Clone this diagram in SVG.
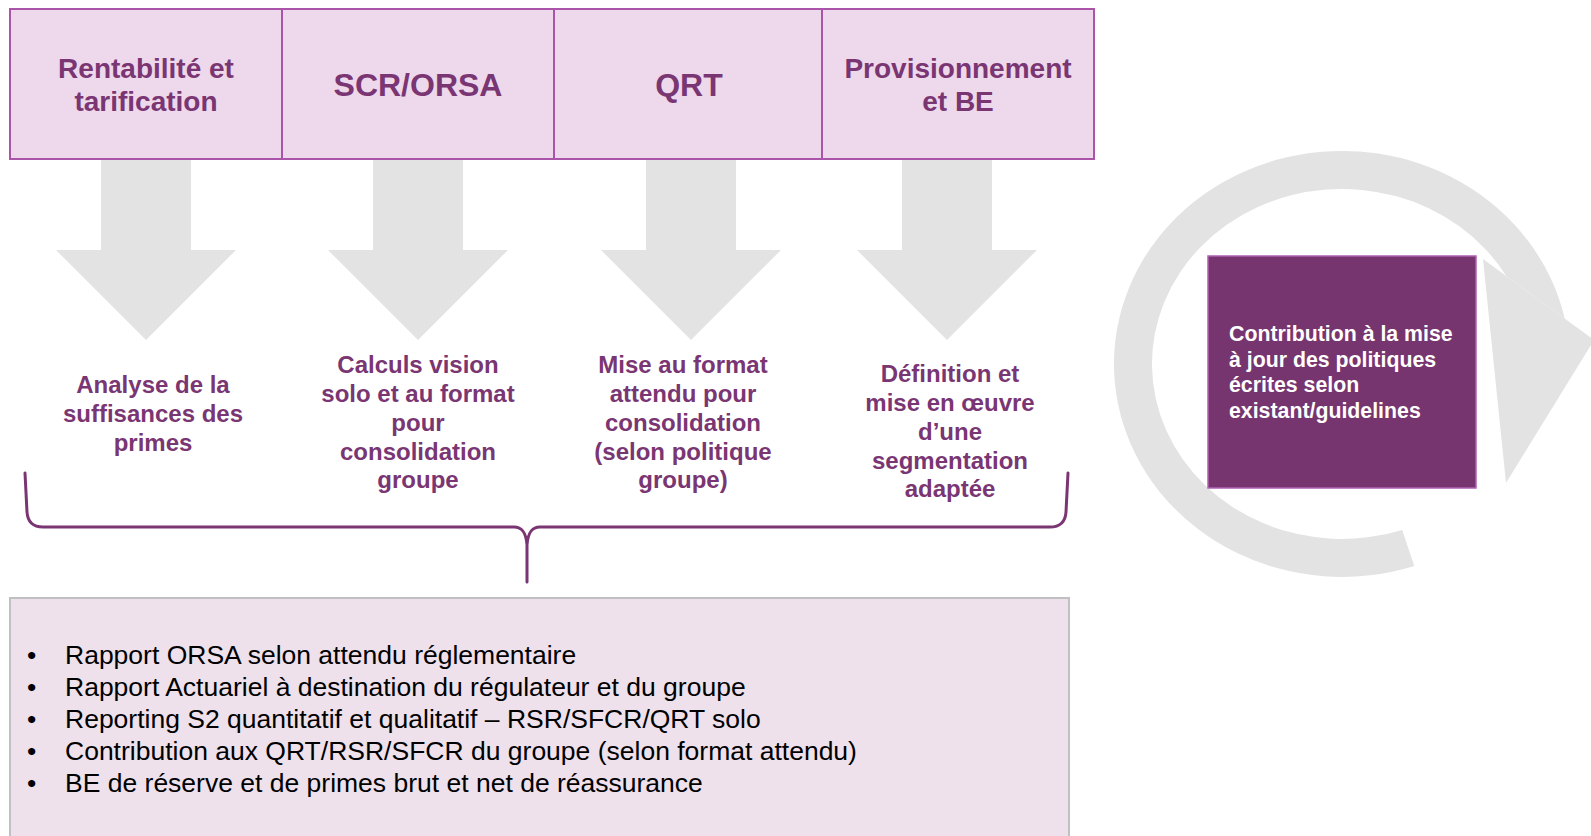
<svg xmlns="http://www.w3.org/2000/svg" width="1591" height="836" viewBox="0 0 1591 836">
<style>
  .hdr { fill: #EED8EB; stroke: #AA55AA; stroke-width: 2; }
  .ht { font-family: "Liberation Sans", Arial, sans-serif; font-weight: bold; fill: #7A3573; text-anchor: middle; }
  .mt { font-family: "Liberation Sans", Arial, sans-serif; font-weight: bold; font-size: 24px; fill: #7A3573; text-anchor: middle; }
  .down { fill: #E3E3E3; }
  .brace { fill: none; stroke: #7A3573; stroke-width: 3; stroke-linecap: round; stroke-linejoin: round; }
  .bt { font-family: "Liberation Sans", Arial, sans-serif; font-size: 26.5px; fill: #000000; }
  .wt { font-family: "Liberation Sans", Arial, sans-serif; font-weight: bold; font-size: 21.3px; fill: #FFFFFF; }
</style>

<g id="cycle">
  <path fill="#E3E3E3" d="M1414.3,565.9 A228,213 0 1 1 1564.8,318.8 L1506.2,275.9 A190,175 0 1 0 1402.2,529.9 Z"/>
  <polygon fill="#E3E3E3" points="1483,259 1594,340 1506,483"/>
</g>

<g id="node-rentabilite">
  <rect class="hdr" x="10" y="9" width="272" height="150"/>
  <text class="ht" font-size="28" x="146" y="78">Rentabilité et</text>
  <text class="ht" font-size="28" x="146" y="111">tarification</text>
</g>
<g id="node-scr-orsa">
  <rect class="hdr" x="282" y="9" width="272" height="150"/>
  <text class="ht" font-size="32" x="418" y="96">SCR/ORSA</text>
</g>
<g id="node-qrt">
  <rect class="hdr" x="554" y="9" width="268" height="150"/>
  <text class="ht" font-size="32" x="689" y="96">QRT</text>
</g>
<g id="node-provisionnement">
  <rect class="hdr" x="822" y="9" width="272" height="150"/>
  <text class="ht" font-size="28" x="958" y="78">Provisionnement</text>
  <text class="ht" font-size="28" x="958" y="111">et BE</text>
</g>

<g id="connectors">
  <polygon class="down" points="101,160 191,160 191,250 236,250 146,340 56,250 101,250"/>
  <polygon class="down" points="373,160 463,160 463,250 508,250 418,340 328,250 373,250"/>
  <polygon class="down" points="646,160 736,160 736,250 781,250 691,340 601,250 646,250"/>
  <polygon class="down" points="902,160 992,160 992,250 1037,250 947,340 857,250 902,250"/>
  <path class="brace" d="M25,473 L27,512 Q28,527 43,527 L514,527 C522,527 526,532 527,545 L527,582 M527,545 C528,532 532,527 540,527 L1050,527 Q1065,527 1066,512 L1068,473"/>
</g>

<g id="node-analyse">
  <text class="mt" x="153" y="393">Analyse de la</text>
  <text class="mt" x="153" y="422">suffisances des</text>
  <text class="mt" x="153" y="450.5">primes</text>
</g>
<g id="node-calculs">
  <text class="mt" x="418" y="373">Calculs vision</text>
  <text class="mt" x="418" y="402">solo et au format</text>
  <text class="mt" x="418" y="430.5">pour</text>
  <text class="mt" x="418" y="459.5">consolidation</text>
  <text class="mt" x="418" y="488">groupe</text>
</g>
<g id="node-mise-format">
  <text class="mt" x="683" y="373">Mise au format</text>
  <text class="mt" x="683" y="402">attendu pour</text>
  <text class="mt" x="683" y="430.5">consolidation</text>
  <text class="mt" x="683" y="459.5">(selon politique</text>
  <text class="mt" x="683" y="488">groupe)</text>
</g>
<g id="node-definition">
  <text class="mt" x="950" y="382">Définition et</text>
  <text class="mt" x="950" y="411">mise en œuvre</text>
  <text class="mt" x="950" y="439.5">d’une</text>
  <text class="mt" x="950" y="468.5">segmentation</text>
  <text class="mt" x="950" y="497">adaptée</text>
</g>

<g id="node-livrables">
  <rect x="10" y="598" width="1059" height="260" fill="#EEE1EC" stroke="#C0C0C0" stroke-width="2"/>
  <text class="bt" x="27" y="664">•</text>
  <text class="bt" x="65" y="664">Rapport ORSA selon attendu réglementaire</text>
  <text class="bt" x="27" y="696">•</text>
  <text class="bt" x="65" y="696">Rapport Actuariel à destination du régulateur et du groupe</text>
  <text class="bt" x="27" y="728">•</text>
  <text class="bt" x="65" y="728">Reporting S2 quantitatif et qualitatif – RSR/SFCR/QRT solo</text>
  <text class="bt" x="27" y="760">•</text>
  <text class="bt" x="65" y="760">Contribution aux QRT/RSR/SFCR du groupe (selon format attendu)</text>
  <text class="bt" x="27" y="792">•</text>
  <text class="bt" x="65" y="792">BE de réserve et de primes brut et net de réassurance</text>
</g>

<g id="node-politiques">
  <rect x="1208" y="256" width="268" height="232" fill="#77356F" stroke="#B060B0" stroke-width="1.5"/>
  <text class="wt" x="1229" y="341">Contribution à la mise</text>
  <text class="wt" x="1229" y="366.6">à jour des politiques</text>
  <text class="wt" x="1229" y="392.2">écrites selon</text>
  <text class="wt" x="1229" y="417.8">existant/guidelines</text>
</g>
</svg>
